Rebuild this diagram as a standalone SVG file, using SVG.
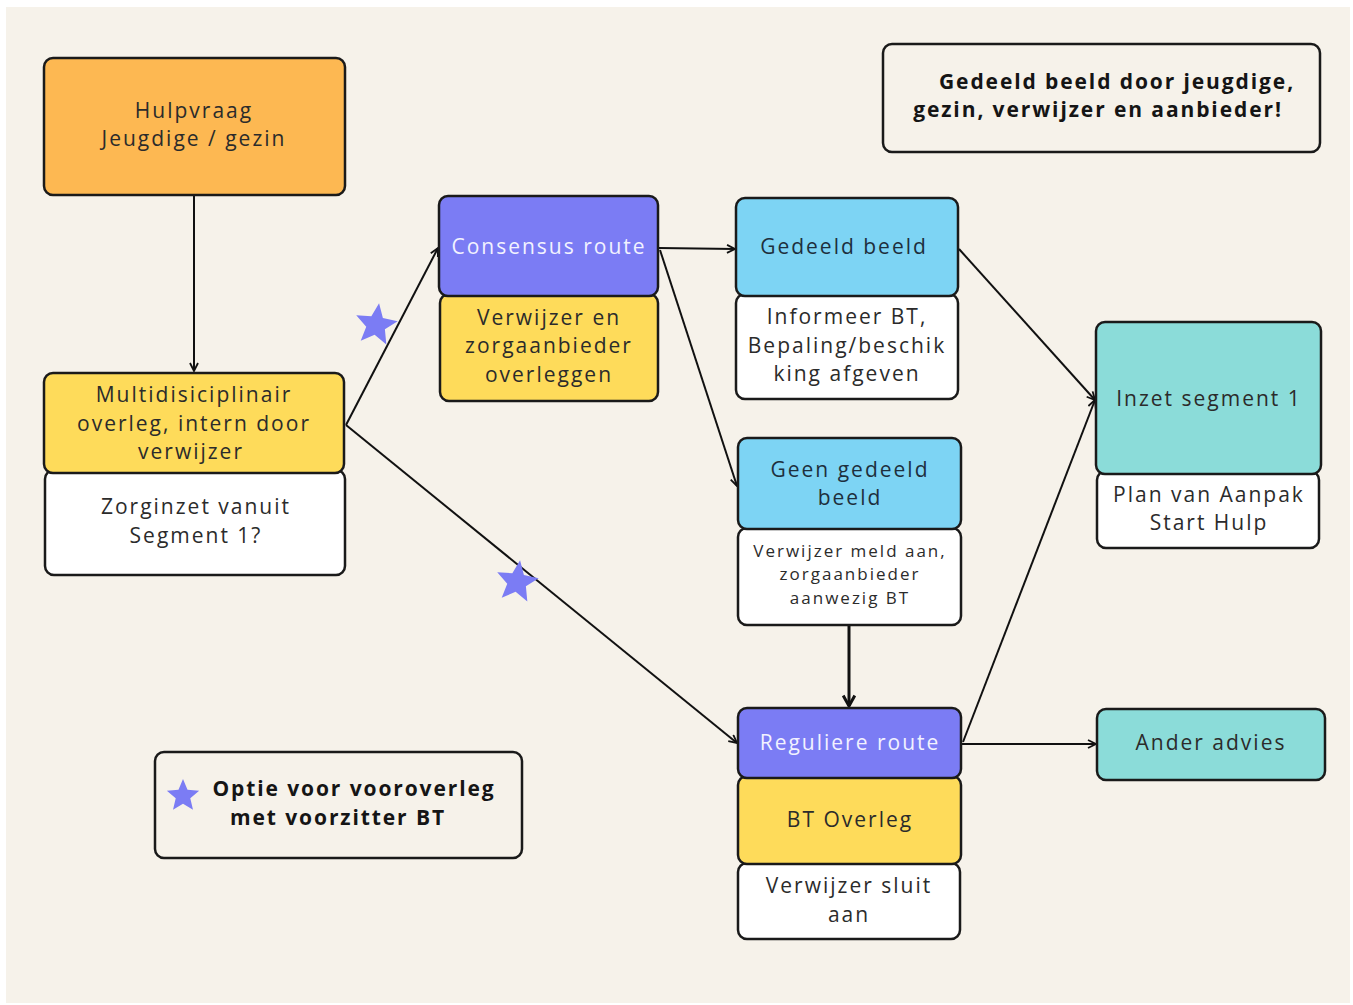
<svg xmlns="http://www.w3.org/2000/svg" xmlns:xlink="http://www.w3.org/1999/xlink" width="1353" height="1005" viewBox="0 0 1353 1005">
<style>
.box{stroke:#1a1a1a;stroke-width:2.5}
.orange{fill:#FDB852}
.yellow{fill:#FEDB5A}
.purple{fill:#7B7CF4}
.blue{fill:#7DD4F4}
.teal{fill:#8BDCD9}
.white{fill:#FFFFFF}
.beige{fill:#F6F2EA}
.t{font-family:"Open Sans","Liberation Sans",sans-serif;font-size:21px;letter-spacing:2px;fill:#2b2b2b;text-anchor:middle}
.tn{fill:#1d2f3d}
.tw{fill:#F2F2FF}
.ts{font-size:17px;letter-spacing:2px}
.tb{font-family:"Open Sans","Liberation Sans",sans-serif;font-size:21px;font-weight:bold;letter-spacing:1.9px;fill:#151515;text-anchor:middle}
.c{stroke:#111;stroke-width:2;fill:none}
.star{fill:#7B7CF4}
</style>
<defs>
<marker id="ah" viewBox="0 0 10 10" refX="9" refY="5" markerWidth="10" markerHeight="10" markerUnits="userSpaceOnUse" orient="auto">
<path d="M1,1 L9,5 L1,9" fill="none" stroke="#111" stroke-width="1.8"/>
</marker>
<marker id="ahb" viewBox="0 0 12 12" refX="10" refY="6" markerWidth="14" markerHeight="14" markerUnits="userSpaceOnUse" orient="auto">
<path d="M1,1 L10,6 L1,11" fill="none" stroke="#111" stroke-width="2.6"/>
</marker>
<polygon id="star" points="0,-1 0.265,-0.364 0.951,-0.309 0.428,0.139 0.588,0.809 0,0.45 -0.588,0.809 -0.428,0.139 -0.951,-0.309 -0.265,-0.364"/>
</defs>
<rect x="0" y="0" width="1353" height="1005" fill="#FFFFFF"/>
<rect x="6" y="7" width="1344" height="996" fill="#F6F2EA"/>

<g id="connectors">
<line class="c" x1="194" y1="196" x2="194" y2="371" marker-end="url(#ah)"/>
<line class="c" x1="346" y1="425" x2="438" y2="248" marker-end="url(#ah)"/>
<line class="c" x1="346" y1="425" x2="737" y2="743" marker-end="url(#ah)"/>
<line class="c" x1="659" y1="248" x2="735" y2="249" marker-end="url(#ah)"/>
<line class="c" x1="660" y1="250" x2="737" y2="486" marker-end="url(#ah)"/>
<line class="c" x1="959" y1="249" x2="1095" y2="400" marker-end="url(#ah)"/>
<line class="c" x1="963" y1="742" x2="1095" y2="400" marker-end="url(#ah)"/>
<line class="c" x1="962" y1="744" x2="1096" y2="744" marker-end="url(#ah)"/>
<line class="c" style="stroke-width:3" x1="849" y1="626" x2="849" y2="706" marker-end="url(#ahb)"/>
</g>

<g id="node-hulpvraag">
<rect class="box orange" x="44" y="58" width="301" height="137" rx="9"/>
<text class="t" x="194" y="118">Hulpvraag</text>
<text class="t" x="194" y="146">Jeugdige / gezin</text>
</g>

<g id="node-multidisciplinair">
<rect class="box white" x="45" y="470" width="300" height="105" rx="9"/>
<rect class="box yellow" x="44" y="373" width="300" height="100" rx="9"/>
<text class="t" x="194" y="402">Multidisiciplinair</text>
<text class="t" x="194" y="431">overleg, intern door</text>
<text class="t" x="191" y="459">verwijzer</text>
<text class="t" x="196" y="514">Zorginzet vanuit</text>
<text class="t" x="196" y="543">Segment 1?</text>
</g>

<g id="node-consensus">
<rect class="box yellow" x="440" y="294" width="218" height="107" rx="9"/>
<rect class="box purple" x="439" y="196" width="219" height="100" rx="9"/>
<text class="t tw" x="549" y="254">Consensus route</text>
<text class="t" x="549" y="325">Verwijzer en</text>
<text class="t" x="549" y="353">zorgaanbieder</text>
<text class="t" x="549" y="382">overleggen</text>
</g>

<g id="node-gedeeld">
<rect class="box white" x="736" y="294" width="222" height="105" rx="9"/>
<rect class="box blue" x="736" y="198" width="222" height="98" rx="9"/>
<text class="t tn" x="844" y="254">Gedeeld beeld</text>
<text class="t" x="847" y="324">Informeer BT,</text>
<text class="t" x="847" y="353">Bepaling/beschik</text>
<text class="t" x="847" y="381">king afgeven</text>
</g>

<g id="node-geen">
<rect class="box white" x="738" y="528" width="223" height="97" rx="9"/>
<rect class="box blue" x="738" y="438" width="223" height="91" rx="9"/>
<text class="t tn" x="850" y="477">Geen gedeeld</text>
<text class="t tn" x="850" y="505">beeld</text>
<text class="t ts" x="850" y="557">Verwijzer meld aan,</text>
<text class="t ts" x="850" y="580">zorgaanbieder</text>
<text class="t ts" x="850" y="604">aanwezig BT</text>
</g>

<g id="node-reguliere">
<rect class="box white" x="738" y="863" width="222" height="76" rx="9"/>
<rect class="box yellow" x="738" y="776" width="223" height="88" rx="9"/>
<rect class="box purple" x="738" y="708" width="223" height="70" rx="9"/>
<text class="t tw" x="850" y="750">Reguliere route</text>
<text class="t" x="850" y="827">BT Overleg</text>
<text class="t" x="849" y="893">Verwijzer sluit</text>
<text class="t" x="849" y="922">aan</text>
</g>

<g id="node-inzet">
<rect class="box white" x="1097" y="471" width="222" height="77" rx="9"/>
<rect class="box teal" x="1096" y="322" width="225" height="152" rx="9"/>
<text class="t" x="1209" y="406">Inzet segment 1</text>
<text class="t" x="1209" y="502">Plan van Aanpak</text>
<text class="t" x="1209" y="530">Start Hulp</text>
</g>

<g id="node-ander">
<rect class="box teal" x="1097" y="709" width="228" height="71" rx="9"/>
<text class="t" x="1211" y="750">Ander advies</text>
</g>

<g id="note-gedeeld">
<rect class="box beige" x="883" y="44" width="437" height="108" rx="9"/>
<text class="tb" x="1117" y="89">Gedeeld beeld door jeugdige,</text>
<text class="tb" x="1098" y="117">gezin, verwijzer en aanbieder!</text>
</g>

<g id="legend">
<rect class="box beige" x="155" y="752" width="367" height="106" rx="9"/>
<use xlink:href="#star" class="star" transform="translate(183,796) scale(17)"/>
<text class="tb" x="354" y="796">Optie voor vooroverleg</text>
<text class="tb" x="338" y="825">met voorzitter BT</text>
</g>

<g id="stars">
<use xlink:href="#star" class="star" transform="translate(376,325) rotate(8) scale(22)"/>
<use xlink:href="#star" class="star" transform="translate(517,582) rotate(8) scale(22)"/>
</g>
</svg>
